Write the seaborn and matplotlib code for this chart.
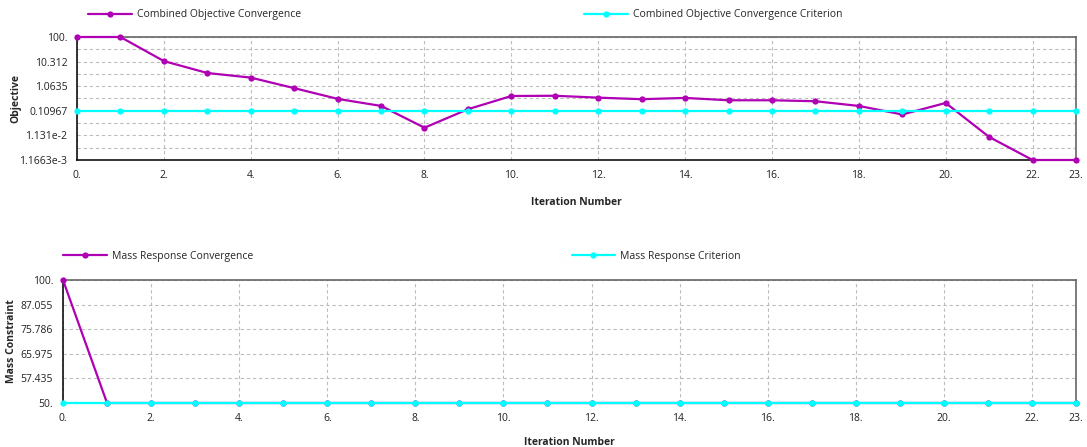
import numpy as np
import pandas as pd
import seaborn as sns
import matplotlib.pyplot as plt
from matplotlib.ticker import FixedLocator, NullFormatter

iterations = list(range(24))

# combined objective convergence (log scale)
objective = [100, 100, 10.8, 3.6, 2.35, 0.89, 0.33, 0.172, 0.023, 0.127,
             0.43, 0.44, 0.37, 0.32, 0.36, 0.29, 0.29, 0.265, 0.172, 0.078,
             0.226, 0.0098, 1.1663e-3, 1.1663e-3]
objective_criterion = [0.10967] * 24

# mass response convergence
mass = [100] + [50] * 23
mass_criterion = [50] * 24

obj_ticks = [100, 10.312, 1.0635, 0.10967, 1.131e-2, 1.1663e-3]
obj_tick_labels = ['100.', '10.312', '1.0635', '0.10967', '1.131e-2', '1.1663e-3']
mass_ticks = [100, 87.055, 75.786, 65.975, 57.435, 50]
mass_tick_labels = ['100.', '87.055', '75.786', '65.975', '57.435', '50.']
x_ticks = [0, 2, 4, 6, 8, 10, 12, 14, 16, 18, 20, 22, 23]
x_tick_labels = [f'{t}.' for t in x_ticks]

purple = '#b000b4'
cyan = '#00ffff'

sns.set_style('white')
plt.rcParams['font.family'] = ['Open Sans', 'DejaVu Sans']

df_obj = pd.DataFrame({'Iteration': iterations, 'Objective': objective,
                       'Criterion': objective_criterion})
df_mass = pd.DataFrame({'Iteration': iterations, 'Mass': mass,
                        'Criterion': mass_criterion})

fig = plt.figure(figsize=(10.87, 4.47), dpi=100)
ax1 = fig.add_axes([77 / 1087, 1 - 160 / 447, 999 / 1087, 123 / 447])
ax2 = fig.add_axes([63 / 1087, 1 - 403 / 447, 1013 / 1087, 123 / 447])


def style_axes(ax, ylabel, yticks, ylabels, ylim, ylabel_x, xlabel_y, minor=None):
    ax.set_yscale('log')
    ax.set_xlim(0, 23)
    ax.set_ylim(*ylim)
    ax.yaxis.set_major_locator(FixedLocator(yticks))
    ax.set_yticklabels(ylabels)
    ax.yaxis.set_minor_formatter(NullFormatter())
    ax.yaxis.set_minor_locator(FixedLocator(minor if minor else []))
    ax.set_xticks(x_ticks)
    ax.set_xticklabels(x_tick_labels)
    ax.tick_params(axis='both', which='both', length=0, labelsize=7.5, colors='#222222')
    ax.tick_params(axis='x', pad=7)
    ax.tick_params(axis='y', pad=7)
    ax.grid(True, which='both', linestyle=(0, (3, 2.5)), color='#bdbdbd', linewidth=0.8)
    ax.set_xlabel('Iteration Number', fontsize=7.5, fontweight='bold')
    ax.set_ylabel(ylabel, fontsize=7.5, fontweight='bold')
    ax.xaxis.set_label_coords(0.5, xlabel_y)
    ax.yaxis.set_label_coords(ylabel_x, 0.5)
    for side in ['top', 'right']:
        ax.spines[side].set_color('#666666')
        ax.spines[side].set_linewidth(1.2)
    for side in ['left', 'bottom']:
        ax.spines[side].set_color('#111111')
        ax.spines[side].set_linewidth(1.2)


minor_obj = [np.sqrt(obj_ticks[i] * obj_ticks[i + 1]) for i in range(len(obj_ticks) - 1)]

sns.lineplot(data=df_obj, x='Iteration', y='Objective', ax=ax1, color=purple,
             marker='o', markersize=4.5, markeredgewidth=0, linewidth=1.6,
             clip_on=False, zorder=3, label='Combined Objective Convergence', legend=False)
sns.lineplot(data=df_obj, x='Iteration', y='Criterion', ax=ax1, color=cyan,
             marker='o', markersize=4.5, markeredgewidth=0, linewidth=1.6,
             clip_on=False, zorder=4, label='Combined Objective Convergence Criterion', legend=False)
style_axes(ax1, 'Objective', obj_ticks, obj_tick_labels, (1.1663e-3, 100),
           -0.056, -0.30, minor_obj)

sns.lineplot(data=df_mass, x='Iteration', y='Mass', ax=ax2, color=purple,
             marker='o', markersize=4.5, markeredgewidth=0, linewidth=1.6,
             clip_on=False, zorder=3, label='Mass Response Convergence', legend=False)
sns.lineplot(data=df_mass, x='Iteration', y='Criterion', ax=ax2, color=cyan,
             marker='o', markersize=4.5, markeredgewidth=0, linewidth=1.6,
             clip_on=False, zorder=4, label='Mass Response Criterion', legend=False)
style_axes(ax2, 'Mass Constraint', mass_ticks, mass_tick_labels, (50, 100),
           -0.045, -0.28)


def add_legends(ax, x_positions, y_pos):
    lines = ax.get_lines()[:2]
    legends = []
    for line, xp in zip(lines, x_positions):
        leg = ax.legend(handles=[line], loc='center left', bbox_to_anchor=(xp, y_pos),
                        frameon=False, fontsize=7.5, handlelength=4.2,
                        handletextpad=0.5, borderpad=0, borderaxespad=0)
        legends.append(leg)
    # the last one stays as ax.legend_, the others are added as artists
    for leg in legends[:-1]:
        ax.add_artist(leg)


add_legends(ax1, [0.011, 0.508], 1.18)
add_legends(ax2, [0.0, 0.502], 1.19)

fig.savefig('out.png', dpi=100)
